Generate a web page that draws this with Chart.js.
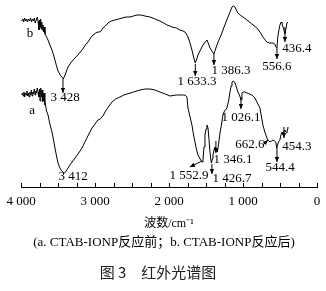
<!DOCTYPE html>
<html>
<head>
<meta charset="utf-8">
<script src="https://cdn.jsdelivr.net/npm/chart.js@4.4.0/dist/chart.umd.min.js"></script>
<style>
  html, body { margin: 0; padding: 0; background: #fff; }
  #wrap { width: 326px; height: 291px; position: relative; }
</style>
</head>
<body>
<div id="wrap"><canvas id="irChart" width="326" height="291"></canvas></div>
<script>
// wavenumbers (cm-1) and relative transmittance
var bWave = [3990,3975,3965,3950,3940,3925,3912,3900,3885,3870,3858,3845,3832,3820,3808,3795,3780,3770,3757,3750,3743,3735,3728,3720,3712,3703,3695,3685,3676,3655,3635,3610,3581,3560,3541,3520,3500,3470,3446,3428,3405,3385,3365,3320,3270,3220,3176,3130,3095,3060,3027,2990,2960,2933,2910,2892,2860,2825,2780,2730,2680,2635,2580,2527,2480,2433,2380,2325,2257,2190,2122,2070,2027,1990,1960,1900,1852,1810,1784,1765,1744,1720,1690,1665,1645,1625,1608,1575,1541,1510,1487,1465,1446,1420,1393,1375,1352,1320,1290,1271,1240,1203,1175,1149,1130,1108,1090,1068,1040,1000,947,880,812,770,731,700,677,640,595,570,555,541,530,515,501,485,474,460,447,433,420,406,393];
var bTrans = [166,168,165,169,166,168,165,168,166,169,165,168,166,169,164,167,170,166,157,167,160,168,158,165,157,162,155,160,153,150,147,142,137,132,127,121,116,112,110,108,112,116,120,125,129,133,137,142,145,149,152,154,155,155,157,159,161,164,166,167,168,169,170,170,171,172,172,171,170,168,166,164,162,161,160,159,157,156,155,153,150,145,137,129,124,128,132,137,142,145,147,143,139,136,133,137,142,148,153,157,163,170,175,180,181,180,177,174,172,170,167,163,159,155,150,147,145,144,144,143,140,139,150,157,162,165,164,160,157,153,158,164,165];

var aWave = [3990,3980,3970,3960,3950,3940,3930,3920,3910,3900,3890,3880,3870,3860,3850,3840,3830,3820,3810,3800,3790,3780,3770,3760,3750,3743,3735,3730,3724,3716,3710,3703,3696,3689,3680,3676,3655,3635,3610,3581,3560,3541,3520,3500,3480,3460,3435,3412,3390,3365,3320,3270,3220,3176,3110,3041,3000,2960,2930,2906,2885,2865,2820,2771,2720,2663,2610,2568,2480,2392,2320,2257,2190,2122,2050,1987,1900,1820,1784,1757,1744,1715,1690,1670,1649,1630,1608,1580,1553,1541,1527,1514,1500,1487,1473,1460,1446,1435,1427,1415,1406,1392,1379,1366,1346,1330,1311,1290,1271,1250,1217,1195,1176,1160,1149,1130,1108,1090,1068,1048,1026,1014,1000,975,947,910,879,839,805,771,750,731,705,677,663,636,615,595,575,557,544,530,515,501,488,474,463,454,443,433,420,406,400,393];
var aTrans = [92,94,91,95,90,94,92,96,91,94,90,95,92,97,91,95,93,98,92,96,94,99,95,90,98,86,99,96,90,97,85,93,86,94,82,86,76,72,63,55,47,39,31,24,20,17,15,14,16,19,24,29,34,39,49,59,63,67,68,70,72,75,80,85,88,90,92,93,95,97,98,98,97,95,93,91,92,92,92,90,79,70,62,53,45,38,32,28,25,27,40,52,58,62,59,48,35,28,24,28,32,37,40,38,35,43,54,63,72,76,79,86,95,101,105,106,104,100,95,92,87,94,95,95,94,93,92,89,84,79,70,62,55,49,47,45,46,47,46,45,39,43,46,47,52,55,54,52,56,57,55,54,58,60];

var tickValues = [0, 1000, 2000, 3000, 4000];
var peakTextB = ['3 428', '1 633.3', '1 386.3', '556.6', '436.4'];
var peakTextA = ['3 412', '1 552.9', '1 426.7', '1 346.1', '1 026.1', '662.6', '544.4', '454.3'];
var seriesNames = ['a', 'b'];
var axisTitle = '波数/cm⁻¹';
var caption = '(a. CTAB-IONP反应前；b. CTAB-IONP反应后)';
var figTitle = '图 3　红外光谱图';

function pts(xs, ys) {
  return xs.map(function (x, i) { return { x: x, y: ys[i] }; });
}

// where each label / arrow goes, in chart units: [text, textX, textY, arrow [x1,y1,x2,y2] or null]
var marks = [
  [peakTextB[0], 3405, 89, [3433, 108, 3433, 94]],
  [peakTextB[1], 1622, 105, [1645, 123, 1645, 111]],
  [peakTextB[2], 1163, 116, [1393, 133, 1393, 122]],
  [peakTextB[3], 541, 120, [541, 139, 541, 128]],
  [peakTextB[4], 271, 138, [433, 160, 433, 145]],
  [peakTextA[0], 3297, 10, null],
  [peakTextA[1], 1730, 11, [1555, 26, 1717, 20]],
  [peakTextA[2], 1150, 8, [1420, 23, 1420, 13]],
  [peakTextA[3], 1136, 27, [1366, 46, 1366, 34]],
  [peakTextA[4], 1028, 69, [1028, 90, 1028, 78]],
  [peakTextA[5], 906, 42, [731, 42, 663, 47]],
  [peakTextA[6], 500, 19, [541, 39, 541, 25]],
  [peakTextA[7], 271, 40, [447, 60, 447, 49]],
  [seriesNames[1], 3878, 153, null],
  [seriesNames[0], 3851, 76, null]
];

var serif = '"Liberation Serif", "Times New Roman", serif';

function arrow(ctx, x1, y1, x2, y2) {
  ctx.beginPath();
  ctx.moveTo(x1, y1);
  ctx.lineTo(x2, y2);
  ctx.stroke();
  var ang = Math.atan2(y2 - y1, x2 - x1);
  var len = 5, w = 2.2;
  ctx.beginPath();
  ctx.moveTo(x2, y2);
  ctx.lineTo(x2 - len * Math.cos(ang) + w * Math.sin(ang), y2 - len * Math.sin(ang) - w * Math.cos(ang));
  ctx.lineTo(x2 - len * Math.cos(ang) - w * Math.sin(ang), y2 - len * Math.sin(ang) + w * Math.cos(ang));
  ctx.closePath();
  ctx.fill();
}

var extras = {
  id: 'extras',
  afterDraw: function (chart) {
    var ctx = chart.ctx, xs = chart.scales.x, ys = chart.scales.y;
    var base = chart.chartArea.bottom;
    ctx.save();
    ctx.strokeStyle = '#000';
    ctx.fillStyle = '#000';
    ctx.lineWidth = 1;
    // upward tick marks every 250
    for (var v = 0; v <= 4000; v += 250) {
      var px = Math.round(xs.getPixelForValue(v)) + 0.5;
      ctx.beginPath();
      ctx.moveTo(px, base);
      ctx.lineTo(px, base - 4);
      ctx.stroke();
    }
    ctx.font = '13px ' + serif;
    ctx.textAlign = 'center';
    ctx.textBaseline = 'middle';
    marks.forEach(function (m) {
      ctx.fillText(m[0], xs.getPixelForValue(m[1]), ys.getPixelForValue(m[2]));
      if (m[3]) {
        var a = m[3];
        arrow(ctx, xs.getPixelForValue(a[0]), ys.getPixelForValue(a[1]),
                   xs.getPixelForValue(a[2]), ys.getPixelForValue(a[3]));
      }
    });
    ctx.font = '13px ' + serif + ', "Noto Sans CJK SC"';
    ctx.fillText(caption, 164, 243);
    ctx.font = '15px "Noto Sans CJK SC"';
    ctx.fillStyle = '#222';
    ctx.fillText(figTitle, 158, 272);
    ctx.restore();
  }
};

new Chart(document.getElementById('irChart'), {
  type: 'scatter',
  data: {
    datasets: [
      { label: 'b', data: pts(bWave, bTrans) },
      { label: 'a', data: pts(aWave, aTrans) }
    ]
  },
  options: {
    responsive: false,
    animation: false,
    showLine: true,
    elements: {
      point: { radius: 0 },
      line: { borderColor: '#000', borderWidth: 1, tension: 0 }
    },
    layout: { padding: { top: 3, left: 21, right: 9, bottom: 56 } },
    plugins: { legend: { display: false }, tooltip: { enabled: false } },
    scales: {
      x: {
        type: 'linear',
        reverse: true,
        min: 0,
        max: 4000,
        afterBuildTicks: function (s) { s.ticks = tickValues.map(function (v) { return { value: v }; }); },
        afterFit: function (s) { s.height = 48; },
        grid: { display: false, drawTicks: false, tickLength: 0 },
        border: { display: true, color: '#000', width: 1 },
        ticks: {
          color: '#000',
          padding: 7,
          maxRotation: 0,
          autoSkip: false,
          font: { family: serif, size: 13 },
          callback: function (v) { return v >= 1000 ? Math.floor(v / 1000) + ' 000' : String(v); }
        },
        title: {
          display: true,
          text: axisTitle,
          color: '#000',
          padding: { top: 8, bottom: 4 },
          font: { family: serif + ', "Noto Sans CJK SC"', size: 12 }
        }
      },
      y: { display: false, min: 0, max: 184 }
    }
  },
  plugins: [extras]
});
</script>
</body>
</html>
